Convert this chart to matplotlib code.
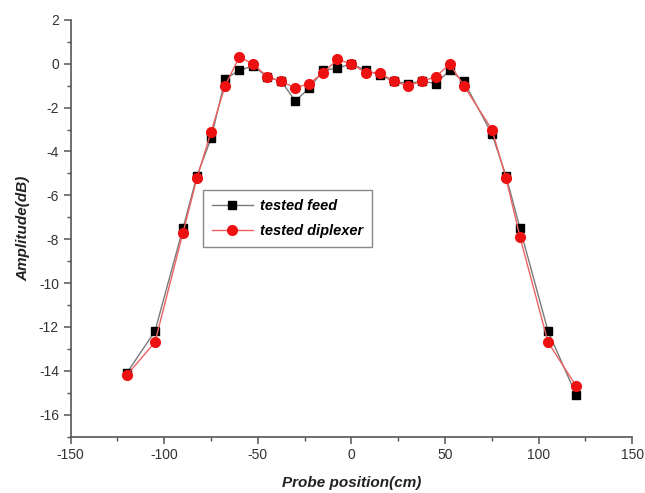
import matplotlib
matplotlib.use("Agg")
from matplotlib import pyplot as plt
from matplotlib.ticker import MultipleLocator

# probe positions (cm)
pos = [-120, -105, -90, -82.5, -75, -67.5, -60, -52.5, -45, -37.5, -30, -22.5,
       -15, -7.5, 0, 7.5, 15, 22.5, 30, 37.5, 45, 52.5, 60, 75, 82.5, 90, 105, 120]

# amplitude (dB)
feed = [-14.1, -12.2, -7.5, -5.1, -3.4, -0.7, -0.3, -0.1, -0.6, -0.8, -1.7, -1.1,
        -0.3, -0.2, 0.0, -0.3, -0.5, -0.8, -0.9, -0.8, -0.9, -0.3, -0.8, -3.2,
        -5.1, -7.5, -12.2, -15.1]
diplexer = [-14.2, -12.7, -7.7, -5.2, -3.1, -1.0, 0.3, 0.0, -0.6, -0.8, -1.1, -0.9,
            -0.4, 0.2, 0.0, -0.4, -0.4, -0.8, -1.0, -0.8, -0.6, 0.0, -1.0, -3.0,
            -5.2, -7.9, -12.7, -14.7]

plt.rcParams['font.family'] = ['Liberation Sans', 'DejaVu Sans']
plt.rcParams['axes.unicode_minus'] = False

fig = plt.figure(figsize=(6.45, 4.93), dpi=100)
ax = fig.add_axes([0.1096, 0.1146, 0.8707, 0.845])

ax.plot(pos, feed, color="#7a7a7a", lw=1.0, marker="s", ms=6,
        mfc="black", mec="black", label="tested feed")
ax.plot(pos, diplexer, color="#f06060", lw=1.0, marker="o", ms=7,
        mfc="#ee1111", mec="#ee1111", label="tested diplexer")

ax.set_xlim(-150, 150)
ax.set_ylim(-17, 2)
ax.xaxis.set_major_locator(MultipleLocator(50))
ax.xaxis.set_minor_locator(MultipleLocator(25))
ax.yaxis.set_major_locator(MultipleLocator(2))
ax.yaxis.set_minor_locator(MultipleLocator(1))

for s in ["top", "right"]:
    ax.spines[s].set_visible(False)
for s in ["left", "bottom"]:
    ax.spines[s].set_color("#555555")
    ax.spines[s].set_linewidth(1.2)

ax.tick_params(which="major", direction="out", length=5, width=1.1,
               color="#555555", labelsize=10, labelcolor="#333333")
ax.tick_params(which="minor", direction="out", length=3, width=1.0, color="#555555")

ax.set_xlabel("Probe position(cm)", fontsize=11, fontweight="bold",
              fontstyle="italic", color="#222222", labelpad=10)
ax.set_ylabel("Amplitude(dB)", fontsize=11, fontweight="bold",
              fontstyle="italic", color="#222222", labelpad=6)

leg = ax.legend(loc="upper left", bbox_to_anchor=(0.236, 0.592), fancybox=False,
                edgecolor="#888888", framealpha=1,
                prop={"weight": "bold", "style": "italic", "size": 10.5},
                handlelength=2.8, handletextpad=0.5, borderpad=0.6,
                labelspacing=0.8, borderaxespad=0)
leg.get_frame().set_linewidth(1.0)

fig.savefig("out.png", dpi=100)
